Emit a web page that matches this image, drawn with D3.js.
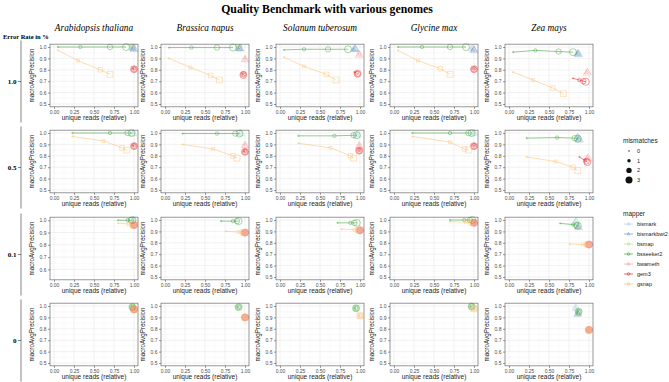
<!DOCTYPE html>
<html>
<head>
<meta charset="utf-8">
<script src="https://cdn.jsdelivr.net/npm/d3@7"></script>
<style>
  body { margin: 0; background: #fff; }
  svg text { font-family: "Liberation Sans", Arial, sans-serif; }
  svg text.serif { font-family: "Liberation Serif", "Times New Roman", serif; }
</style>
</head>
<body>
<div id="chart"></div>
<script>
// facets
const genomes = ['Arabidopsis thaliana', 'Brassica napus', 'Solanum tuberosum', 'Glycine max', 'Zea mays'];
const errorRates = ['1.0', '0.5', '0.1', '0'];
const mappers = ['bismark', 'bismarkbwt2', 'bsmap', 'bsseeker2', 'bwameth', 'gem3', 'gsnap'];
const mapperColors = ['#A6CEE3', '#6F93C2', '#B2DF8A', '#33A02C', '#FB9A99', '#E31A1C', '#FDBF6F'];
const mapperShapes = ['triangle', 'triangle', 'square', 'circle', 'triangle', 'circle', 'square'];
const mismatches = [0, 1, 2, 3];
const xTicks = [0, 0.25, 0.5, 0.75, 1];
const yTicks = [0.5, 0.6, 0.7, 0.8, 0.9, 1.0];

// one entry per mapper line in a panel: genome index, mapper, x / y for mismatches 0..3
const err10 = [
  { g: 0, m: 'bsmap',       x: [0.96, 0.97, 0.98, 0.98], y: [1.0, 1.0, 1.0, 1.0] },
  { g: 0, m: 'bismark',     x: [0.97, 0.98, 0.98, 0.99], y: [0.995, 0.995, 0.99, 0.99] },
  { g: 0, m: 'bismarkbwt2', x: [0.98, 0.99, 0.99, 1.0],  y: [0.99, 0.985, 0.985, 0.98] },
  { g: 0, m: 'bsseeker2',   x: [0.05, 0.33, 0.70, 0.90], y: [1.0, 1.0, 1.0, 1.0] },
  { g: 0, m: 'gem3',        x: [0.99, 1.0, 1.0, 1.0],    y: [0.81, 0.81, 0.805, 0.805] },
  { g: 0, m: 'gsnap',       x: [0.05, 0.30, 0.58, 0.70], y: [0.97, 0.88, 0.80, 0.76] },

  { g: 1, m: 'bsmap',       x: [0.90, 0.91, 0.92, 0.92], y: [0.995, 0.995, 0.995, 0.995] },
  { g: 1, m: 'bismark',     x: [0.91, 0.92, 0.93, 0.93], y: [0.995, 0.995, 0.99, 0.99] },
  { g: 1, m: 'bismarkbwt2', x: [0.92, 0.93, 0.93, 0.94], y: [0.99, 0.99, 0.985, 0.985] },
  { g: 1, m: 'bsseeker2',   x: [0.05, 0.33, 0.65, 0.85], y: [0.995, 0.995, 0.995, 0.995] },
  { g: 1, m: 'bwameth',     x: [1.0, 1.0, 1.0, 1.0],     y: [0.90, 0.895, 0.89, 0.89] },
  { g: 1, m: 'gem3',        x: [0.97, 0.98, 0.98, 0.98], y: [0.765, 0.76, 0.76, 0.755] },
  { g: 1, m: 'gsnap',       x: [0.05, 0.32, 0.57, 0.68], y: [0.90, 0.82, 0.75, 0.71] },

  { g: 2, m: 'bismark',     x: [0.91, 0.92, 0.93, 0.93], y: [0.985, 0.985, 0.985, 0.985] },
  { g: 2, m: 'bismarkbwt2', x: [0.92, 0.93, 0.94, 0.94], y: [0.985, 0.98, 0.98, 0.98] },
  { g: 2, m: 'bsseeker2',   x: [0.05, 0.30, 0.60, 0.85], y: [0.975, 0.98, 0.98, 0.98] },
  { g: 2, m: 'bwameth',     x: [0.98, 0.99, 0.99, 0.99], y: [0.94, 0.935, 0.935, 0.93] },
  { g: 2, m: 'gem3',        x: [0.93, 0.96, 0.97, 0.97], y: [0.78, 0.77, 0.765, 0.765] },
  { g: 2, m: 'gsnap',       x: [0.05, 0.30, 0.58, 0.70], y: [0.91, 0.83, 0.76, 0.71] },

  { g: 3, m: 'bismark',     x: [0.96, 0.97, 0.98, 0.98], y: [0.99, 0.99, 0.985, 0.985] },
  { g: 3, m: 'bismarkbwt2', x: [0.98, 0.99, 1.0, 1.0],   y: [0.98, 0.975, 0.975, 0.97] },
  { g: 3, m: 'bsseeker2',   x: [0.05, 0.35, 0.70, 0.90], y: [1.0, 1.0, 1.0, 1.0] },
  { g: 3, m: 'gem3',        x: [1.0, 1.0, 1.0, 1.0],     y: [0.81, 0.81, 0.805, 0.805] },
  { g: 3, m: 'gsnap',       x: [0.05, 0.30, 0.58, 0.70], y: [0.97, 0.88, 0.81, 0.76] },

  { g: 4, m: 'bismark',     x: [0.84, 0.85, 0.86, 0.86], y: [0.95, 0.945, 0.945, 0.94] },
  { g: 4, m: 'bismarkbwt2', x: [0.85, 0.86, 0.86, 0.87], y: [0.945, 0.94, 0.94, 0.935] },
  { g: 4, m: 'bsseeker2',   x: [0.05, 0.33, 0.62, 0.80], y: [0.955, 0.97, 0.96, 0.955] },
  { g: 4, m: 'bwameth',     x: [0.97, 0.97, 0.98, 0.98], y: [0.785, 0.78, 0.78, 0.775] },
  { g: 4, m: 'gem3',        x: [0.80, 0.88, 0.93, 0.96], y: [0.725, 0.71, 0.70, 0.695] },
  { g: 4, m: 'gsnap',       x: [0.05, 0.30, 0.55, 0.68], y: [0.78, 0.71, 0.64, 0.59] },
];

const err05 = [
  { g: 0, m: 'bismark',     x: [0.98, 0.99, 0.99, 0.99], y: [1.0, 1.0, 0.995, 0.995] },
  { g: 0, m: 'bsseeker2',   x: [0.23, 0.70, 0.92, 0.97], y: [1.0, 1.0, 1.0, 1.0] },
  { g: 0, m: 'gem3',        x: [0.99, 1.0, 1.0, 1.0],    y: [0.89, 0.89, 0.885, 0.885] },
  { g: 0, m: 'gsnap',       x: [0.23, 0.62, 0.85, 0.91], y: [0.97, 0.93, 0.87, 0.85] },

  { g: 1, m: 'bismark',     x: [0.93, 0.94, 0.94, 0.95], y: [0.995, 0.995, 0.995, 0.995] },
  { g: 1, m: 'bsseeker2',   x: [0.22, 0.65, 0.88, 0.93], y: [0.995, 0.995, 0.995, 0.995] },
  { g: 1, m: 'bwameth',     x: [0.99, 1.0, 1.0, 1.0],    y: [0.90, 0.895, 0.89, 0.89] },
  { g: 1, m: 'gem3',        x: [0.99, 1.0, 1.0, 1.0],    y: [0.84, 0.84, 0.835, 0.835] },
  { g: 1, m: 'gsnap',       x: [0.22, 0.60, 0.85, 0.90], y: [0.90, 0.86, 0.80, 0.78] },

  { g: 2, m: 'bismark',     x: [0.95, 0.96, 0.96, 0.97], y: [0.985, 0.985, 0.985, 0.985] },
  { g: 2, m: 'bsseeker2',   x: [0.23, 0.68, 0.92, 0.96], y: [0.975, 0.975, 0.98, 0.98] },
  { g: 2, m: 'bwameth',     x: [0.99, 0.99, 0.99, 0.99], y: [0.895, 0.89, 0.89, 0.885] },
  { g: 2, m: 'gem3',        x: [0.99, 0.99, 0.99, 0.99], y: [0.85, 0.85, 0.845, 0.845] },
  { g: 2, m: 'gsnap',       x: [0.23, 0.63, 0.88, 0.92], y: [0.91, 0.87, 0.80, 0.78] },

  { g: 3, m: 'bismark',     x: [0.98, 0.99, 0.99, 1.0],  y: [0.995, 0.995, 0.995, 0.995] },
  { g: 3, m: 'bsseeker2',   x: [0.23, 0.70, 0.93, 0.97], y: [1.0, 1.0, 1.0, 1.0] },
  { g: 3, m: 'gem3',        x: [1.0, 1.0, 1.0, 1.0],     y: [0.89, 0.89, 0.885, 0.885] },
  { g: 3, m: 'gsnap',       x: [0.23, 0.70, 0.88, 0.93], y: [0.97, 0.92, 0.86, 0.85] },

  { g: 4, m: 'bismark',     x: [0.85, 0.85, 0.86, 0.86], y: [0.975, 0.97, 0.965, 0.96] },
  { g: 4, m: 'bismarkbwt2', x: [0.86, 0.87, 0.87, 0.88], y: [0.95, 0.945, 0.945, 0.94] },
  { g: 4, m: 'bsseeker2',   x: [0.22, 0.60, 0.82, 0.86], y: [0.955, 0.96, 0.955, 0.95] },
  { g: 4, m: 'bwameth',     x: [0.98, 0.98, 0.98, 0.99], y: [0.79, 0.785, 0.78, 0.78] },
  { g: 4, m: 'gem3',        x: [0.88, 0.95, 0.97, 0.98], y: [0.79, 0.76, 0.75, 0.745] },
  { g: 4, m: 'gsnap',       x: [0.22, 0.58, 0.80, 0.86], y: [0.79, 0.75, 0.70, 0.67] },
];

const err01 = [
  { g: 0, m: 'bismark',     x: [0.98, 0.99, 0.99, 1.0],  y: [1.0, 1.0, 1.0, 1.0] },
  { g: 0, m: 'bsseeker2',   x: [0.80, 0.92, 0.96, 0.98], y: [1.0, 1.0, 1.0, 1.0] },
  { g: 0, m: 'gem3',        x: [1.0, 1.0, 1.0, 1.0],     y: [0.96, 0.96, 0.96, 0.96] },
  { g: 0, m: 'gsnap',       x: [0.80, 0.93, 0.98, 0.99], y: [0.975, 0.97, 0.965, 0.96] },

  { g: 1, m: 'bsseeker2',   x: [0.70, 0.85, 0.90, 0.92], y: [0.99, 0.99, 0.99, 0.99] },
  { g: 1, m: 'gem3',        x: [1.0, 1.0, 1.0, 1.0],     y: [0.89, 0.89, 0.89, 0.89] },
  { g: 1, m: 'gsnap',       x: [0.76, 0.92, 0.97, 0.99], y: [0.90, 0.895, 0.89, 0.89] },

  { g: 2, m: 'bsseeker2',   x: [0.72, 0.88, 0.93, 0.96], y: [0.975, 0.975, 0.975, 0.975] },
  { g: 2, m: 'gem3',        x: [1.0, 1.0, 1.0, 1.0],     y: [0.91, 0.91, 0.91, 0.91] },
  { g: 2, m: 'gsnap',       x: [0.77, 0.93, 0.97, 0.99], y: [0.92, 0.915, 0.91, 0.91] },

  { g: 3, m: 'bsseeker2',   x: [0.70, 0.88, 0.95, 0.98], y: [1.0, 1.0, 1.0, 1.0] },
  { g: 3, m: 'gem3',        x: [1.0, 1.0, 1.0, 1.0],     y: [0.975, 0.975, 0.975, 0.975] },
  { g: 3, m: 'gsnap',       x: [0.70, 0.90, 0.96, 0.99], y: [0.985, 0.98, 0.975, 0.975] },

  { g: 4, m: 'bismark',     x: [0.82, 0.83, 0.84, 0.84], y: [1.0, 0.995, 0.99, 0.985] },
  { g: 4, m: 'bismarkbwt2', x: [0.85, 0.86, 0.86, 0.87], y: [0.945, 0.94, 0.94, 0.935] },
  { g: 4, m: 'bsseeker2',   x: [0.64, 0.80, 0.84, 0.86], y: [0.97, 0.96, 0.955, 0.95] },
  { g: 4, m: 'gem3',        x: [1.0, 1.0, 1.0, 1.0],     y: [0.785, 0.785, 0.785, 0.785] },
  { g: 4, m: 'gsnap',       x: [0.76, 0.92, 0.97, 0.99], y: [0.79, 0.785, 0.785, 0.785] },
];

const err00 = [
  { g: 0, m: 'bsseeker2',   x: [0.97, 0.98, 0.98, 0.98], y: [0.995, 0.99, 0.99, 0.99] },
  { g: 0, m: 'gem3',        x: [1.0, 1.0, 1.0, 1.0],     y: [0.97, 0.97, 0.97, 0.97] },
  { g: 0, m: 'gsnap',       x: [0.99, 1.0, 1.0, 1.0],    y: [0.975, 0.97, 0.97, 0.97] },

  { g: 1, m: 'bsseeker2',   x: [0.91, 0.92, 0.92, 0.92], y: [0.99, 0.99, 0.99, 0.99] },
  { g: 1, m: 'gem3',        x: [1.0, 1.0, 1.0, 1.0],     y: [0.90, 0.90, 0.90, 0.90] },
  { g: 1, m: 'gsnap',       x: [0.99, 1.0, 1.0, 1.0],    y: [0.90, 0.90, 0.90, 0.90] },

  { g: 2, m: 'bsseeker2',   x: [0.94, 0.95, 0.95, 0.95], y: [0.98, 0.98, 0.98, 0.98] },
  { g: 2, m: 'gsnap',       x: [0.99, 1.0, 1.0, 1.0],    y: [0.915, 0.915, 0.915, 0.915] },

  { g: 3, m: 'bsseeker2',   x: [0.96, 0.97, 0.97, 0.97], y: [0.995, 0.995, 0.995, 0.995] },
  { g: 3, m: 'gsnap',       x: [0.99, 1.0, 1.0, 1.0],    y: [0.975, 0.975, 0.975, 0.975] },

  { g: 4, m: 'bismark',     x: [0.83, 0.83, 0.83, 0.84], y: [0.99, 0.985, 0.985, 0.98] },
  { g: 4, m: 'bismarkbwt2', x: [0.85, 0.86, 0.86, 0.86], y: [0.935, 0.93, 0.93, 0.93] },
  { g: 4, m: 'bsseeker2',   x: [0.86, 0.87, 0.87, 0.87], y: [0.95, 0.95, 0.95, 0.95] },
  { g: 4, m: 'gem3',        x: [1.0, 1.0, 1.0, 1.0],     y: [0.79, 0.79, 0.79, 0.79] },
  { g: 4, m: 'gsnap',       x: [1.0, 1.0, 1.0, 1.0],     y: [0.79, 0.79, 0.79, 0.79] },
];

const rowsData = [err10, err05, err01, err00];

// ---- layout
const W = 669, H = 382;
const colX0 = [54, 165, 280, 394, 509];   // pixel where x = 0
const rowY1 = [47, 133, 220, 306];        // pixel where y = 1.0
const XSPAN = 80, YSPAN = 57;             // pixels for 0..1 and 0.5..1.0
const GREY_TXT = '#4d4d4d';
const ALPHA = 0.6;

const svg = d3.select('#chart').append('svg').attr('width', W).attr('height', H);

const color = d3.scaleOrdinal().domain(mappers).range(mapperColors);
const shape = d3.scaleOrdinal().domain(mappers).range(mapperShapes);
const rad = d3.scaleOrdinal().domain(mismatches).range([0.7, 1.7, 2.7, 3.5]);

function symbolPath(kind, r) {
  const type = kind === 'triangle' ? d3.symbolTriangle : kind === 'square' ? d3.symbolSquare : d3.symbolCircle;
  const area = kind === 'triangle' ? r * r * 2.2 : kind === 'square' ? r * r * 2.8 : Math.PI * r * r;
  return d3.symbol().type(type).size(area)();
}

// title
svg.append('text').attr('class', 'serif').attr('x', 327).attr('y', 13)
  .attr('text-anchor', 'middle').style('font-size', '11.8px').style('font-weight', 'bold')
  .text('Quality Benchmark with various genomes');

svg.append('text').attr('class', 'serif').attr('x', 3).attr('y', 39)
  .style('font-size', '6.5px').style('font-weight', 'bold').text('Error Rate in %');

genomes.forEach((gn, c) => {
  svg.append('text').attr('class', 'serif').attr('x', colX0[c] + XSPAN / 2).attr('y', 31)
    .attr('text-anchor', 'middle').style('font-size', '9.3px').style('font-style', 'italic').text(gn);
});

// row labels with bracket line
errorRates.forEach((er, r) => {
  const cy = rowY1[r] + YSPAN / 2 + 6;
  svg.append('line').attr('x1', 21).attr('x2', 21).attr('y1', cy - 41).attr('y2', cy + 41)
    .attr('stroke', '#333').attr('stroke-width', 0.6);
  svg.append('line').attr('x1', 18).attr('x2', 21).attr('y1', cy).attr('y2', cy)
    .attr('stroke', '#333').attr('stroke-width', 0.6);
  svg.append('text').attr('class', 'serif').attr('x', 16.5).attr('y', cy + 2.5)
    .attr('text-anchor', 'end').style('font-size', '7px').style('font-weight', 'bold').text(er);
});

// panels
rowsData.forEach((rowData, r) => {
  genomes.forEach((gn, c) => {
    const x = d3.scaleLinear().domain([-0.05, 1.05]).range([colX0[c] - 0.05 * XSPAN, colX0[c] + 1.05 * XSPAN]);
    const yPx = YSPAN / 0.5;
    const yLo = (r === 2 && c === 0) ? 0.515 : 0.475;
    const y = d3.scaleLinear().domain([yLo, 1.025]).range([rowY1[r] + 0.525 * yPx, rowY1[r] - 0.025 * yPx]);
    const [xl, xr] = x.range();
    const [yb, yt] = y.range();
    const g = svg.append('g');

    // grid
    const xMinor = [0.125, 0.375, 0.625, 0.875];
    const yMinor = d3.range(0.45, 1.0, 0.1).filter(v => v > y.domain()[0] && v < y.domain()[1]);
    const yMaj = yTicks.filter(v => v >= y.domain()[0]);
    g.selectAll('.xm').data(xMinor).enter().append('line')
      .attr('x1', d => x(d)).attr('x2', d => x(d)).attr('y1', yt).attr('y2', yb)
      .attr('stroke', '#f2f2f2').attr('stroke-width', 0.4);
    g.selectAll('.ym').data(yMinor).enter().append('line')
      .attr('y1', d => y(d)).attr('y2', d => y(d)).attr('x1', xl).attr('x2', xr)
      .attr('stroke', '#f2f2f2').attr('stroke-width', 0.4);
    g.selectAll('.xM').data(xTicks).enter().append('line')
      .attr('x1', d => x(d)).attr('x2', d => x(d)).attr('y1', yt).attr('y2', yb)
      .attr('stroke', '#e8e8e8').attr('stroke-width', 0.6);
    g.selectAll('.yM').data(yMaj).enter().append('line')
      .attr('y1', d => y(d)).attr('y2', d => y(d)).attr('x1', xl).attr('x2', xr)
      .attr('stroke', '#e8e8e8').attr('stroke-width', 0.6);

    // series
    const line = d3.line().x(d => x(d[0])).y(d => y(d[1]));
    rowData.filter(s => s.g === c).forEach(s => {
      const pts = s.x.map((v, i) => [v, s.y[i], mismatches[i]]);
      const col = color(s.m);
      const op = shape(s.m) === 'triangle' ? ALPHA - 0.15 : ALPHA;
      g.append('path').datum(pts).attr('d', line).attr('fill', 'none')
        .attr('stroke', col).attr('stroke-width', 0.9).attr('stroke-opacity', op);
      g.selectAll(null).data(pts).enter().append('path')
        .attr('transform', d => `translate(${x(d[0])},${y(d[1])})`)
        .attr('d', d => symbolPath(shape(s.m), rad(d[2])))
        .attr('fill', 'none').attr('stroke', col).attr('stroke-width', 0.7).attr('stroke-opacity', op);
    });

    // border
    g.append('rect').attr('x', xl).attr('y', yt).attr('width', xr - xl).attr('height', yb - yt)
      .attr('fill', 'none').attr('stroke', '#555').attr('stroke-width', 0.6);

    // axes
    const ax = g.append('g').attr('transform', `translate(0,${yb})`)
      .call(d3.axisBottom(x).tickValues(xTicks).tickFormat(d3.format('.2f')).tickSize(2).tickPadding(1.5));
    const ay = g.append('g').attr('transform', `translate(${xl},0)`)
      .call(d3.axisLeft(y).tickValues(yMaj).tickFormat(d3.format('.1f')).tickSize(2).tickPadding(1.5));
    [ax, ay].forEach(a => {
      a.select('.domain').remove();
      a.selectAll('line').attr('stroke', '#333').attr('stroke-width', 0.5);
      a.selectAll('text').style('font-size', '5px').style('fill', GREY_TXT)
        .style('font-family', '"Liberation Sans", Arial, sans-serif');
    });

    g.append('text').attr('x', (xl + xr) / 2).attr('y', yb + 13.5).attr('text-anchor', 'middle')
      .style('font-size', '6.5px').style('fill', '#222').text('unique reads (relative)');
    const ly = (yt + yb) / 2, lx = xl - 16.5;
    g.append('text').attr('x', lx).attr('y', ly).attr('transform', `rotate(-90,${lx},${ly})`)
      .attr('text-anchor', 'middle').style('font-size', '6.3px').style('fill', '#222').text('macroAvgPrecision');
  });
});

// legends
const lg1 = svg.append('g');
lg1.append('text').attr('x', 623).attr('y', 143).style('font-size', '6.5px').style('fill', '#222').text('mismatches');
lg1.selectAll('circle').data(mismatches).enter().append('circle')
  .attr('cx', 629).attr('cy', (d, i) => 151 + i * 9.7).attr('r', d => rad(d)).attr('fill', '#111');
lg1.selectAll('.lt').data(mismatches).enter().append('text')
  .attr('x', 637).attr('y', (d, i) => 153 + i * 9.7).style('font-size', '5.5px').style('fill', '#222').text(d => d);

const lg2 = svg.append('g');
lg2.append('text').attr('x', 623).attr('y', 216).style('font-size', '6.5px').style('fill', '#222').text('mapper');
mappers.forEach((m, i) => {
  const cy = 224 + i * 10;
  lg2.append('line').attr('x1', 624).attr('x2', 633).attr('y1', cy).attr('y2', cy)
    .attr('stroke', color(m)).attr('stroke-width', 0.9).attr('stroke-opacity', ALPHA + 0.1);
  lg2.append('path').attr('transform', `translate(628.5,${cy})`).attr('d', symbolPath(shape(m), 1.3))
    .attr('fill', 'none').attr('stroke', color(m)).attr('stroke-width', 0.7).attr('stroke-opacity', ALPHA + 0.2);
  lg2.append('text').attr('x', 637).attr('y', cy + 2).style('font-size', '5.5px').style('fill', '#222').text(m);
});
</script>
</body>
</html>
